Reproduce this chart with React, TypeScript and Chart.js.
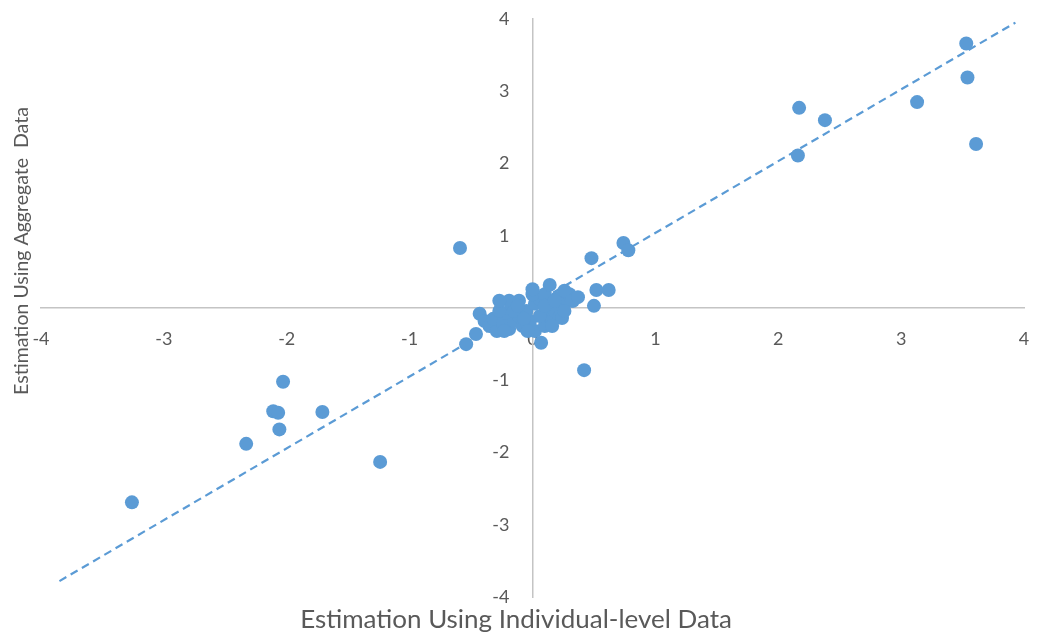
import React, { useEffect, useRef } from "react";
import { Chart, registerables } from "chart.js";

Chart.register(...registerables);

// Scatter values (x = individual-level, y = aggregate)
const pointX: number[] = [
  3.53, 3.54, 3.61, 3.13, 2.17, 2.38, 2.16,
  -0.59, 0.48, 0.74, 0.78, 0.52, 0.62, 0.5, 0.42, 0.07, -0.54, -0.46,
  -3.26, -2.33, -2.03, -2.11, -2.07, -2.06, -1.71, -1.24,
  -0.43, -0.39, -0.35, -0.29, -0.32, -0.24, -0.19, -0.15, -0.11, -0.22,
  -0.17, -0.08, -0.02, 0.02, 0.1, 0.12, 0.16, -0.05, 0.02, 0.06,
  0.0, 0.1, 0.14, 0.2, 0.24, 0.28, 0.3, 0.33, 0.26, 0.18,
  0.22, -0.11, -0.19, 0.0, 0.32, 0.24,
  -0.27, -0.15, -0.07, 0.06, 0.1, 0.18, 0.26, -0.23, -0.04, -0.12,
  -0.27, 0.37, 0.16,
];
const pointY: number[] = [
  3.66, 3.19, 2.27, 2.85, 2.77, 2.6, 2.11,
  0.83, 0.69, 0.9, 0.8, 0.25, 0.25, 0.03, -0.86, -0.48, -0.5, -0.36,
  -2.69, -1.88, -1.02, -1.43, -1.45, -1.68, -1.44, -2.13,
  -0.08, -0.18, -0.25, -0.32, -0.15, -0.21, -0.29, -0.18, -0.11, -0.07,
  0.03, -0.25, -0.18, -0.32, -0.25, -0.07, -0.18, -0.04, 0.06, 0.12,
  0.19, 0.19, 0.32, 0.14, 0.03, 0.1, 0.19, 0.1, 0.24, -0.04,
  -0.12, 0.1, 0.1, 0.26, 0.1, -0.14,
  -0.04, -0.04, -0.15, -0.11, 0.03, 0.1, -0.04, -0.32, -0.32, 0.03,
  0.1, 0.15, -0.25,
];

// Linear trend line end points
const trendX: number[] = [-3.85, 3.93];
const trendY: number[] = [-3.78, 3.95];

const axisTicks: number[] = [-4, -3, -2, -1, 0, 1, 2, 3, 4];

const xTitle = "Estimation Using Individual-level Data";
const yTitle = "Estimation Using Aggregate  Data";

const BLUE = "#5B9BD5";
const TEXT = "#595959";
const FONT = "Lato, 'Open Sans', sans-serif";
const Y_LABEL_GAP = 23;

function fitSize(ctx: CanvasRenderingContext2D, text: string, target: number) {
  ctx.font = `20px ${FONT}`;
  const w = ctx.measureText(text).width;
  return (20 * target) / w;
}

const titlesPlugin = {
  id: "axisTitles",
  beforeDraw(chart: any) {
    // move the y tick labels to the left of the centred y axis
    const scale = chart.scales.y;
    const items = scale.getLabelItems(chart.chartArea);
    if (items && !(items as any).__shifted) {
      items.forEach((it: any) => {
        it.options.translation[0] -= Y_LABEL_GAP;
      });
      (items as any).__shifted = true;
    }
  },
  afterDraw(chart: any) {
    const ctx: CanvasRenderingContext2D = chart.ctx;
    ctx.save();
    ctx.fillStyle = TEXT;
    ctx.textAlign = "center";
    ctx.textBaseline = "middle";
    const xs = fitSize(ctx, xTitle, 432);
    ctx.font = `${xs}px ${FONT}`;
    ctx.fillText(xTitle, 516, 620);
    const ys = fitSize(ctx, yTitle, 288);
    ctx.font = `${ys}px ${FONT}`;
    ctx.translate(22, 251);
    ctx.rotate(-Math.PI / 2);
    ctx.fillText(yTitle, 0, 0);
    ctx.restore();
  },
};

const zeroPadding = (s: any) => {
  s.paddingTop = 0;
  s.paddingBottom = 0;
  s.paddingLeft = 0;
  s.paddingRight = 0;
};

export default function App() {
  const ref = useRef<HTMLCanvasElement | null>(null);

  useEffect(() => {
    if (!ref.current) return;
    const points = pointX.map((x, i) => ({ x, y: pointY[i] }));
    const trend = trendX.map((x, i) => ({ x, y: trendY[i] }));
    const tickFont = { family: FONT, size: 18 };
    const chart = new Chart(ref.current, {
      type: "scatter",
      data: {
        datasets: [
          {
            label: "Estimates",
            data: points,
            backgroundColor: BLUE,
            borderColor: BLUE,
            pointRadius: 7,
            pointBorderWidth: 0,
            showLine: false,
          },
          {
            label: "Trend",
            data: trend,
            showLine: true,
            borderColor: BLUE,
            borderWidth: 2.2,
            borderDash: [8, 5],
            pointRadius: 0,
            fill: false,
          },
        ],
      },
      options: {
        responsive: false,
        animation: false,
        layout: { padding: { left: 41, right: 13, top: 19, bottom: 42 } },
        plugins: {
          legend: { display: false },
          tooltip: { enabled: false },
        },
        scales: {
          x: {
            type: "linear",
            min: -4,
            max: 4,
            position: { y: 0 } as any,
            afterBuildTicks: (s: any) => {
              s.ticks = axisTicks.map((v) => ({ value: v }));
            },
            afterFit: zeroPadding,
            grid: { display: false, drawTicks: false },
            border: { display: true, color: "#c4c4c4", width: 1.5 },
            ticks: {
              color: TEXT,
              font: tickFont,
              padding: 20,
              maxRotation: 0,
              autoSkip: false,
            },
          },
          y: {
            type: "linear",
            min: -4,
            max: 4,
            position: { x: 0 } as any,
            afterBuildTicks: (s: any) => {
              s.ticks = axisTicks.map((v) => ({ value: v }));
            },
            afterFit: zeroPadding,
            grid: { display: false, drawTicks: false },
            border: { display: true, color: "#c4c4c4", width: 1.5 },
            ticks: {
              color: TEXT,
              font: tickFont,
              padding: 0,
              autoSkip: false,
            },
          },
        },
      },
      plugins: [titlesPlugin],
    });
    return () => chart.destroy();
  }, []);

  return (
    <div style={{ position: "absolute", left: 0, top: 0, width: 1037, height: 639, background: "#fff" }}>
      <canvas ref={ref} width={1037} height={639} style={{ display: "block" }} />
    </div>
  );
}
